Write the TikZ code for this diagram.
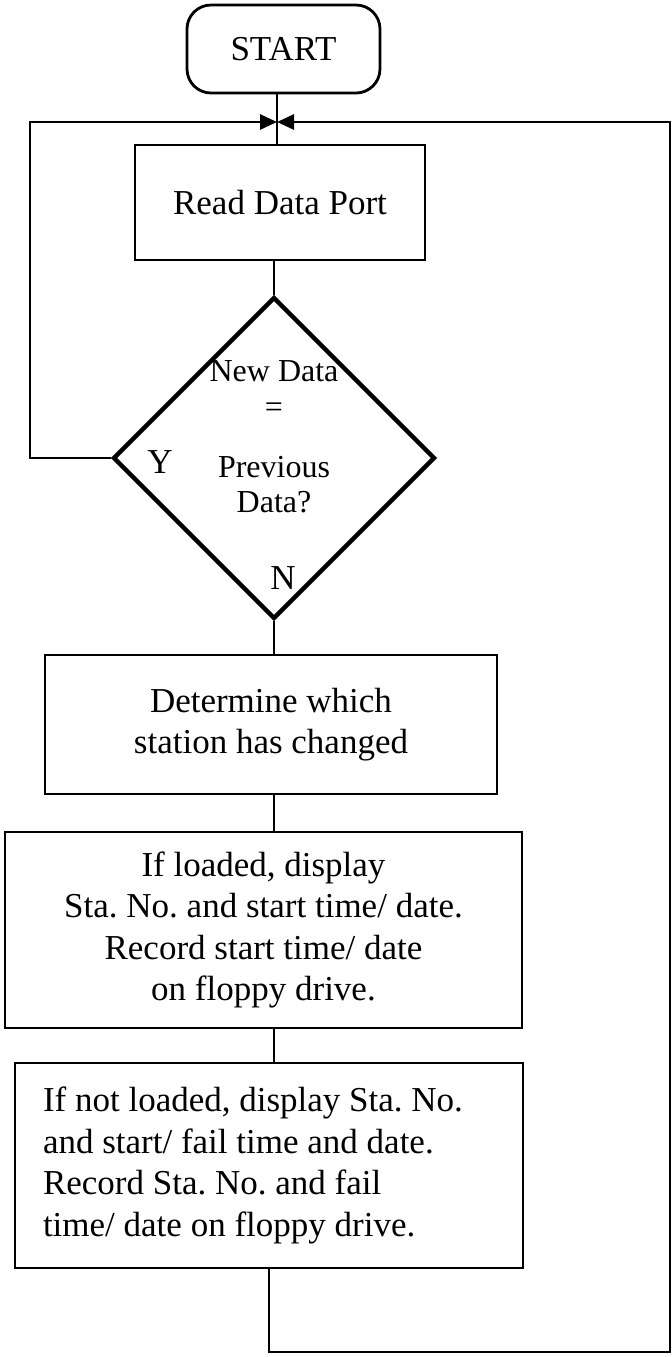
\documentclass[tikz,border=0pt]{standalone}
\usepackage{fontspec}
\setmainfont{Liberation Serif}
\usetikzlibrary{arrows.meta, shapes.geometric}

\begin{document}
\frenchspacing
\begin{tikzpicture}[
  x=0.5pt, y=-0.5pt,
  font=\fontsize{17.5pt}{20.7pt}\selectfont,
  >={Triangle[length=8.5pt, width=7.5pt]},
  % the chart's boxes: a rounded terminal, plain steps, one test
  terminal/.style = {draw, line width=1.4pt, rounded corners=12pt,
                     minimum width=96.5pt, minimum height=44pt, inner sep=0pt},
  process/.style  = {draw, line width=1.4pt, align=center, inner sep=0pt},
  decision/.style = {diamond, aspect=1, draw, line width=2.2pt, inner sep=0pt,
                     minimum width=161pt, minimum height=161pt},
  flow/.style     = {draw, line width=1.4pt},
  lbl/.style      = {inner sep=0pt},
]
\useasboundingbox (0,0) rectangle (672,1357);

% ------------------------------------------------------------- main column
\node[terminal] (start) at (283.5,49) {START};
\node[process, minimum width=145pt, minimum height=57.5pt] (read)
     at (280,202.5) {Read Data Port};
\node[decision] (same) at (274,458) {};
\node[lbl, align=center, font=\fontsize{16pt}{19pt}\selectfont] (sameq)
     at (274,437) {New Data\\[-1pt]=\\[11pt]Previous\\[-1.5pt]Data?};
\node[lbl] (yes) at (160,462) {Y};
\node[lbl] (no)  at (283,578) {N};
\node[process, minimum width=226pt, minimum height=69.5pt] (which)
     at (271,724.5) {Determine which\\station has changed};
\node[process, minimum width=258.5pt, minimum height=98pt] (loaded)
     at (263.5,930) {If loaded, display\\Sta. No. and start time/ date.\\
                     Record start time/ date\\on floppy drive.};
\node[process, align=flush left, inner xsep=14pt, text width=226pt,
      minimum height=102.5pt] (failed)
     at (269,1165.5) {If not loaded, display Sta. No.\\and start/ fail time and date.\\
                      Record Sta. No. and fail\\time/ date on floppy drive.};

% ------------------------------------------------------------- connectors
\coordinate (jn) at (277,122);
\draw[flow] (start.south -| jn) -- (jn) -- (read.north -| jn);
\draw[flow] (same.north |- read.south) -- (same.north);
\draw[flow] (same.south) -- (same.south |- which.north);
\draw[flow] (same.south |- which.south) -- (same.south |- loaded.north);
\draw[flow] (same.south |- loaded.south) -- (same.south |- failed.north);

% both loops come back into the junction above "Read Data Port"
\coordinate (lc) at (30,122);
\coordinate (rc) at (670,1352);
\draw[flow, ->] (same.west) -| (lc) -- (jn);
\draw[flow, ->] (failed.south) |- (rc) |- (jn);

\end{tikzpicture}
\end{document}
